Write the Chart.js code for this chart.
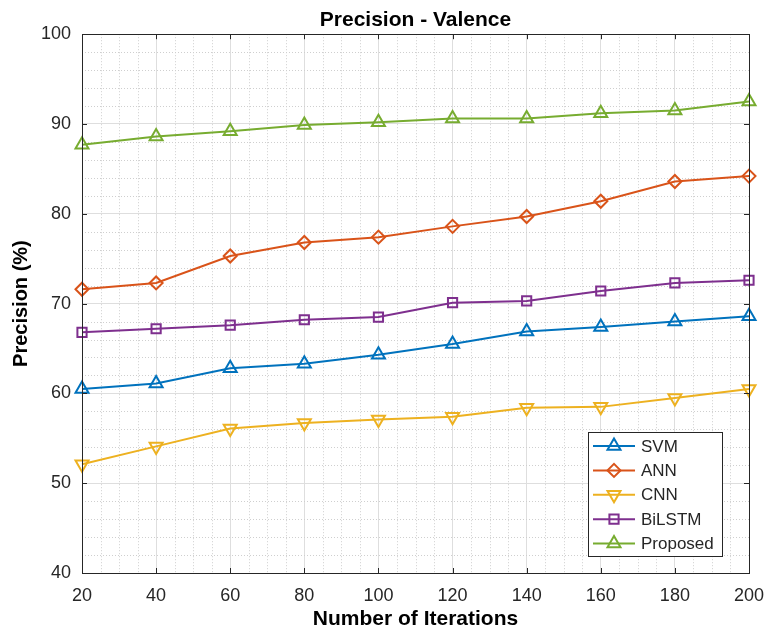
<!DOCTYPE html>
<html>
<head>
<meta charset="utf-8">
<script src="https://cdn.jsdelivr.net/npm/chart.js"></script>
<style>
  html, body { margin: 0; padding: 0; background: #fff; }
</style>
</head>
<body>
<canvas id="myChart" width="768" height="633"></canvas>
<script>
// data
const iterations = [20, 40, 60, 80, 100, 120, 140, 160, 180, 200];
const seriesNames = ['SVM', 'ANN', 'CNN', 'BiLSTM', 'Proposed'];
const svm      = [60.5, 61.1, 62.8, 63.3, 64.3, 65.5, 66.9, 67.4, 68.0, 68.6];
const ann      = [71.6, 72.3, 75.3, 76.8, 77.4, 78.6, 79.7, 81.4, 83.6, 84.2];
const cnn      = [52.1, 54.1, 56.1, 56.7, 57.1, 57.4, 58.4, 58.5, 59.5, 60.5];
const bilstm   = [66.8, 67.2, 67.6, 68.2, 68.5, 70.1, 70.3, 71.4, 72.3, 72.6];
const proposed = [87.7, 88.6, 89.2, 89.9, 90.2, 90.6, 90.6, 91.2, 91.5, 92.5];
const xTicks = [20, 40, 60, 80, 100, 120, 140, 160, 180, 200];
const yTicks = [40, 50, 60, 70, 80, 90, 100];

const FONT = "'Liberation Sans', Arial, sans-serif";
const AXIS = '#262626';

function pts(vals) {
  return iterations.map((x, i) => ({ x: x, y: vals[i] }));
}

function series(label, vals, color, style, radius, rot) {
  return {
    label: label,
    data: pts(vals),
    borderColor: color,
    backgroundColor: 'rgba(0,0,0,0)',
    borderWidth: 2,
    pointStyle: style,
    pointRadius: radius,
    pointHoverRadius: radius,
    pointBorderWidth: 2,
    pointRotation: rot || 0,
    pointBackgroundColor: 'rgba(0,0,0,0)',
    clip: false
  };
}

// minor dotted grid + inner ticks + box + legend
const matlabLook = {
  id: 'matlabLook',
  beforeDatasetsDraw(chart) {
    const ctx = chart.ctx, a = chart.chartArea;
    const xs = chart.scales.x, ys = chart.scales.y;
    ctx.save();
    ctx.strokeStyle = '#cfcfcf';
    ctx.lineWidth = 1;
    ctx.setLineDash([1, 2]);
    for (let v = 20; v <= 200; v += 5) {
      if (v % 20 === 0) continue;
      const px = Math.round(xs.getPixelForValue(v)) + 0.5;
      ctx.beginPath(); ctx.moveTo(px, a.top); ctx.lineTo(px, a.bottom); ctx.stroke();
    }
    for (let v = 40; v <= 100; v += 2) {
      if (v % 10 === 0) continue;
      const py = Math.round(ys.getPixelForValue(v)) + 0.5;
      ctx.beginPath(); ctx.moveTo(a.left, py); ctx.lineTo(a.right, py); ctx.stroke();
    }
    ctx.restore();
  },
  afterDatasetsDraw(chart) {
    const ctx = chart.ctx, a = chart.chartArea;
    const xs = chart.scales.x, ys = chart.scales.y;
    ctx.save();
    ctx.strokeStyle = AXIS;
    ctx.lineWidth = 1;
    ctx.strokeRect(Math.round(a.left) + 0.5, Math.round(a.top) + 0.5,
      Math.round(a.right - a.left), Math.round(a.bottom - a.top));
    const tl = 5;
    ctx.beginPath();
    xTicks.forEach(v => {
      const px = Math.round(xs.getPixelForValue(v)) + 0.5;
      ctx.moveTo(px, a.bottom); ctx.lineTo(px, a.bottom - tl);
      ctx.moveTo(px, a.top); ctx.lineTo(px, a.top + tl);
    });
    yTicks.forEach(v => {
      const py = Math.round(ys.getPixelForValue(v)) + 0.5;
      ctx.moveTo(a.left, py); ctx.lineTo(a.left + tl, py);
      ctx.moveTo(a.right, py); ctx.lineTo(a.right - tl, py);
    });
    ctx.stroke();

    // legend box, lower right inside the axes
    const bx = 588, by = 432, bw = 134, bh = 124;
    ctx.fillStyle = '#fff';
    ctx.fillRect(bx, by, bw, bh);
    ctx.strokeRect(bx + 0.5, by + 0.5, bw, bh);
    ctx.font = '17px ' + FONT;
    ctx.textBaseline = 'middle';
    ctx.textAlign = 'left';
    chart.data.datasets.forEach((ds, i) => {
      const y = by + 14 + i * 24.4;
      ctx.strokeStyle = ds.borderColor;
      ctx.lineWidth = 2;
      ctx.beginPath(); ctx.moveTo(593, y); ctx.lineTo(635, y); ctx.stroke();
      ctx.fillStyle = 'rgba(0,0,0,0)';
      Chart.helpers.drawPoint(ctx, {
        pointStyle: ds.pointStyle, radius: ds.pointRadius, rotation: ds.pointRotation,
        borderWidth: 2
      }, 614, y);
      ctx.fillStyle = AXIS;
      ctx.fillText(ds.label, 641, y + 1);
    });
    ctx.restore();
  }
};

new Chart('myChart', {
  type: 'line',
  data: {
    datasets: [
      series(seriesNames[0], svm, '#0072BD', 'triangle', 7.5),
      series(seriesNames[1], ann, '#D95319', 'rectRot', 6.5),
      series(seriesNames[2], cnn, '#EDB120', 'triangle', 7.5, 180),
      series(seriesNames[3], bilstm, '#7E2F8E', 'rect', 6.5),
      series(seriesNames[4], proposed, '#77AC30', 'triangle', 7.5)
    ]
  },
  options: {
    responsive: false,
    animation: false,
    events: [],
    layout: { padding: { left: 0, right: 19, top: 0, bottom: 0 } },
    plugins: {
      legend: { display: false },
      tooltip: { enabled: false },
      title: {
        display: true,
        fullSize: false,
        text: 'Precision - Valence',
        color: '#000',
        font: { family: FONT, size: 21, weight: 'bold', lineHeight: 1.2 },
        padding: { top: 8, bottom: 1 }
      }
    },
    scales: {
      x: {
        type: 'linear',
        min: 20,
        max: 200,
        afterBuildTicks(s) { s.ticks = xTicks.map(v => ({ value: v })); },
        afterFit(s) { s.height = 60; s.paddingLeft = 0; s.paddingRight = 0; },
        ticks: { color: AXIS, padding: 12, font: { family: FONT, size: 18 }, maxRotation: 0 },
        grid: { color: '#dedede', drawTicks: false },
        border: { color: AXIS },
        title: {
          display: true,
          text: 'Number of Iterations',
          color: '#000',
          font: { family: FONT, size: 21, weight: 'bold', lineHeight: 1.2 },
          padding: { top: 0, bottom: 1 }
        }
      },
      y: {
        min: 40,
        max: 100,
        afterBuildTicks(s) { s.ticks = yTicks.map(v => ({ value: v })); },
        afterFit(s) { s.width = 82; },
        ticks: { color: AXIS, padding: 11, font: { family: FONT, size: 18 } },
        grid: { color: '#dedede', drawTicks: false },
        border: { color: AXIS },
        title: {
          display: true,
          text: 'Precision (%)',
          color: '#000',
          font: { family: FONT, size: 20, weight: 'bold', lineHeight: 1.2 },
          padding: { top: 9, bottom: 0 }
        }
      }
    }
  },
  plugins: [matlabLook]
});
</script>
</body>
</html>
